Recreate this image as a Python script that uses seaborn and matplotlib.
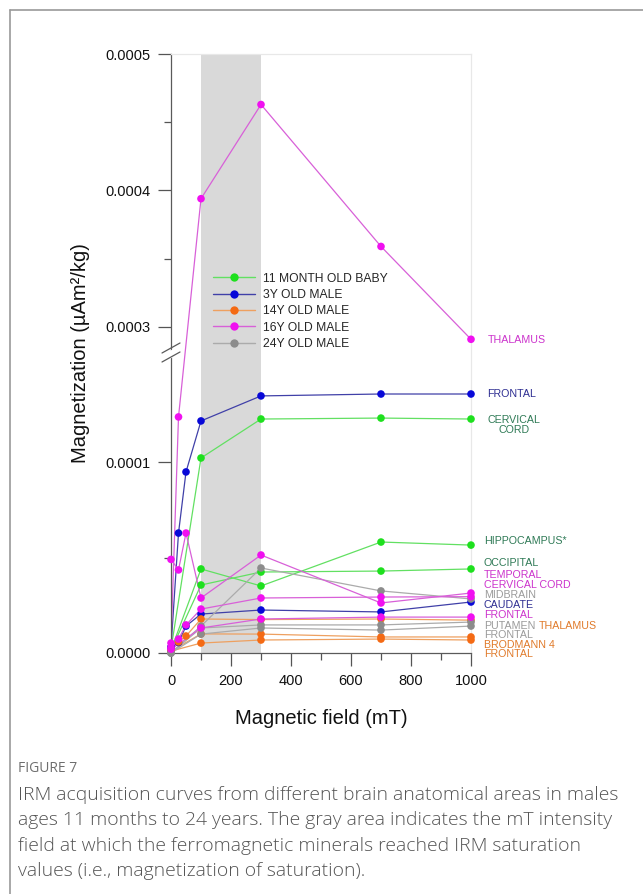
import numpy as np
import pandas as pd
import matplotlib
matplotlib.use("Agg")
import matplotlib.pyplot as plt
from matplotlib.lines import Line2D
from matplotlib.patches import Polygon
import seaborn as sns

# ---------------- data ----------------
ages = ["11 MONTH OLD BABY", "3Y OLD MALE", "14Y OLD MALE", "16Y OLD MALE", "24Y OLD MALE"]

baby_cervical_x = [0, 100, 300, 700, 1000]
baby_cervical_y = [2.0e-6, 1.021e-4, 1.225e-4, 1.230e-4, 1.225e-4]
baby_hippo_x = [0, 100, 300, 700, 1000]
baby_hippo_y = [1.5e-6, 4.40e-5, 3.51e-5, 5.81e-5, 5.65e-5]
baby_occip_x = [0, 100, 300, 700, 1000]
baby_occip_y = [1.5e-6, 3.56e-5, 4.24e-5, 4.29e-5, 4.40e-5]

m3_frontal_x = [0, 25, 50, 100, 300, 700, 1000]
m3_frontal_y = [3.0e-6, 6.28e-5, 9.48e-5, 1.215e-4, 1.346e-4, 1.356e-4, 1.356e-4]
m3_caudate_x = [0, 25, 50, 100, 300, 700, 1000]
m3_caudate_y = [3.0e-6, 5.5e-6, 1.41e-5, 2.04e-5, 2.25e-5, 2.15e-5, 2.67e-5]

m14_thal_x = [0, 25, 50, 100, 300, 700, 1000]
m14_thal_y = [1.0e-6, 5.8e-6, 8.9e-6, 1.78e-5, 1.75e-5, 1.78e-5, 1.72e-5]
m14_brod_x = [0, 100, 300, 700, 1000]
m14_brod_y = [1.0e-6, 1.00e-5, 9.9e-6, 8.4e-6, 8.4e-6]
m14_frontal_x = [0, 100, 300, 700, 1000]
m14_frontal_y = [1.0e-6, 5.2e-6, 6.8e-6, 7.3e-6, 6.8e-6]

m16_thal_x = [0, 25, 100, 300, 700, 1000]
m16_thal_y = [5.2e-6, 1.236e-4, 3.94e-4, 4.63e-4, 3.59e-4, 2.91e-4]
m16_temporal_x = [0, 25, 50, 100, 300, 700, 1000]
m16_temporal_y = [4.9e-5, 4.35e-5, 6.28e-5, 2.88e-5, 5.13e-5, 2.62e-5, 3.14e-5]
m16_cervical_x = [0, 25, 50, 100, 300, 700, 1000]
m16_cervical_y = [3.0e-6, 7.3e-6, 1.47e-5, 2.30e-5, 2.88e-5, 2.93e-5, 2.95e-5]
m16_frontal_x = [0, 100, 300, 700, 1000]
m16_frontal_y = [2.0e-6, 1.31e-5, 1.78e-5, 1.88e-5, 1.88e-5]

m24_midbrain_x = [0, 100, 300, 700, 1000]
m24_midbrain_y = [0.0, 1.41e-5, 4.45e-5, 3.25e-5, 2.83e-5]
m24_putamen_x = [0, 100, 300, 700, 1000]
m24_putamen_y = [0.0, 1.31e-5, 1.47e-5, 1.47e-5, 1.62e-5]
m24_frontal_x = [0, 100, 300, 700, 1000]
m24_frontal_y = [0.0, 9.9e-6, 1.31e-5, 1.20e-5, 1.41e-5]

series = [
    (ages[0], "CERVICAL CORD", baby_cervical_x, baby_cervical_y),
    (ages[0], "HIPPOCAMPUS*", baby_hippo_x, baby_hippo_y),
    (ages[0], "OCCIPITAL", baby_occip_x, baby_occip_y),
    (ages[1], "FRONTAL", m3_frontal_x, m3_frontal_y),
    (ages[1], "CAUDATE", m3_caudate_x, m3_caudate_y),
    (ages[2], "THALAMUS", m14_thal_x, m14_thal_y),
    (ages[2], "BRODMANN 4", m14_brod_x, m14_brod_y),
    (ages[2], "FRONTAL", m14_frontal_x, m14_frontal_y),
    (ages[4], "MIDBRAIN", m24_midbrain_x, m24_midbrain_y),
    (ages[4], "PUTAMEN", m24_putamen_x, m24_putamen_y),
    (ages[4], "FRONTAL", m24_frontal_x, m24_frontal_y),
    (ages[3], "THALAMUS", m16_thal_x, m16_thal_y),
    (ages[3], "TEMPORAL", m16_temporal_x, m16_temporal_y),
    (ages[3], "CERVICAL CORD", m16_cervical_x, m16_cervical_y),
    (ages[3], "FRONTAL", m16_frontal_x, m16_frontal_y),
]

# right-hand labels: text, y (data), x (data), color key
label_texts = ["THALAMUS", "FRONTAL", "CERVICAL\nCORD", "HIPPOCAMPUS*", "OCCIPITAL",
               "TEMPORAL", "CERVICAL CORD", "MIDBRAIN", "CAUDATE", "FRONTAL",
               "PUTAMEN", "THALAMUS", "FRONTAL", "BRODMANN 4", "FRONTAL"]
label_y = [2.905e-4, 1.356e-4, 1.194e-4, 5.86e-5, 4.71e-5,
           4.08e-5, 3.56e-5, 3.04e-5, 2.51e-5, 1.99e-5,
           1.41e-5, 1.41e-5, 9.4e-6, 4.2e-6, -5e-7]
label_x = [1055, 1055, 1055, 1043, 1043,
           1043, 1043, 1043, 1043, 1043,
           1043, 1225, 1043, 1043, 1043]
label_age = [3, 1, 0, 0, 0, 3, 3, 4, 1, 3, 4, 2, 4, 2, 2]

rows = []
for age, region, xs, ys in series:
    for xv, yv in zip(xs, ys):
        rows.append({"field": xv, "mag": yv, "age": age, "region": region})
df = pd.DataFrame(rows)

line_colors = {ages[0]: "#62e062", ages[1]: "#4040a8", ages[2]: "#eea060",
               ages[3]: "#d860d8", ages[4]: "#ababab"}
marker_colors = {ages[0]: "#1ee01e", ages[1]: "#0808d8", ages[2]: "#f46a14",
                 ages[3]: "#f010f0", ages[4]: "#8c8c8c"}
text_colors = ["#2f7a56", "#2e2e92", "#e07a2a", "#cc33cc", "#9a9a9a"]

# ---------------- broken y scale ----------------
Y1, Y2 = 0.000152, 0.000285
K1, K2 = 1.91e6, 1.365e6
H1 = Y1 * K1
H2 = 326.0 + (Y2 - 0.0003) * K2


def fwd(y):
    y = np.asarray(y, dtype=float)
    mid = H1 + (y - Y1) * (H2 - H1) / (Y2 - Y1)
    return np.where(y <= Y1, y * K1, np.where(y >= Y2, H2 + (y - Y2) * K2, mid))


def inv(h):
    h = np.asarray(h, dtype=float)
    mid = Y1 + (h - H1) * (Y2 - Y1) / (H2 - H1)
    return np.where(h <= H1, h / K1, np.where(h >= H2, Y2 + (h - H2) / K2, mid))


# ---------------- figure ----------------
sns.set_style("white")
plt.rcParams["font.family"] = ["Liberation Sans", "DejaVu Sans"]

W, H = 643, 894
fig = plt.figure(figsize=(W / 100, H / 100), dpi=100)
ax = fig.add_axes([171 / W, 1 - 653 / H, 300 / W, 599 / H])
ax.set_yscale("function", functions=(fwd, inv))
ax.set_xlim(0, 1000)
ax.set_ylim(0, 0.0005)

ax.axvspan(100, 300, color="#d9d9d9", zorder=0, lw=0)

sns.lineplot(data=df, x="field", y="mag", hue="age", units="region", estimator=None,
             palette=line_colors, linewidth=0.9, legend=False, sort=False, ax=ax, zorder=2)
sns.scatterplot(data=df, x="field", y="mag", hue="age", palette=marker_colors, s=30,
                linewidth=0, legend=False, ax=ax, zorder=3, clip_on=False)

# ticks
ax.set_xticks([0, 200, 400, 600, 800, 1000])
ax.set_xticks([100, 300, 500, 700, 900], minor=True)
ax.set_xticklabels(["0", "200", "400", "600", "800", "1000"])
yt = [0.0, 0.0001, 0.0003, 0.0004, 0.0005]
ax.set_yticks(yt)
ax.set_yticklabels([f"{v:.4f}" for v in yt])
ax.set_yticks([0.00005, 0.00035, 0.00045], minor=True)
ax.tick_params(axis="both", which="major", direction="out", length=9.5, width=0.9,
               color="#555555", labelsize=10.5, pad=5.5, labelcolor="#111111")
ax.tick_params(axis="both", which="minor", direction="out", length=5, width=0.9,
               color="#555555")
ax.tick_params(axis="x", which="both", bottom=True)
ax.tick_params(axis="y", which="both", left=True)

for s in ["left", "bottom"]:
    ax.spines[s].set_color("#5a5a5a")
    ax.spines[s].set_linewidth(0.9)
for s in ["top", "right"]:
    ax.spines[s].set_color("#e8e8e8")
    ax.spines[s].set_linewidth(0.9)

ax.set_xlabel("Magnetic field (mT)", fontsize=14.5, color="#111111")
ax.set_ylabel("Magnetization (\u00b5Am\u00b2/kg)", fontsize=14.5, color="#111111")
ax.xaxis.set_label_coords(0.5, -0.094)
ax.yaxis.set_label_coords(-0.27, 0.5)

# legend
handles = [Line2D([0], [0], color=line_colors[a], lw=1.0, marker="o", markersize=6,
                  markerfacecolor=marker_colors[a], markeredgewidth=0) for a in ages]
ax.legend(handles, ages, loc="upper left", bbox_to_anchor=(0.14, 0.635), frameon=False,
          fontsize=8.7, handlelength=3.5, handletextpad=0.6, labelspacing=0.36,
          borderpad=0, borderaxespad=0)

# right labels
for t, yv, xv, ai in zip(label_texts, label_y, label_x, label_age):
    ax.text(xv, yv, t, color=text_colors[ai], fontsize=7.7, ha="left", va="center",
            clip_on=False, multialignment="center", linespacing=0.95)

# axis break marks
tr = ax.transAxes
def px2ax(px, py):
    return ((px - 171) / 300, (653 - py) / 599)
white = Polygon([px2ax(168, 360), px2ax(175, 356), px2ax(175, 348), px2ax(168, 352)],
                closed=True, transform=tr, facecolor="white", edgecolor="none",
                clip_on=False, zorder=4)
ax.add_patch(white)
for dy in (0, 9):
    ax.plot([px2ax(162, 362 - dy)[0], px2ax(180, 352 - dy)[0]],
            [px2ax(162, 362 - dy)[1], px2ax(180, 352 - dy)[1]],
            transform=tr, color="#5a5a5a", lw=0.9, clip_on=False, zorder=5)

# page frame
fig.add_artist(Line2D([10 / W, 1], [1 - 10 / H, 1 - 10 / H], color="#9a9a9a", lw=1.2))
fig.add_artist(Line2D([10 / W, 10 / W], [0, 1 - 10 / H], color="#9a9a9a", lw=1.2))

# caption
cap_font = ["Open Sans", "DejaVu Sans"]
fig.text(18 / W, 1 - 768 / H, "FIGURE 7", fontsize=10, color="#6e6e6e",
         family=cap_font, va="center", ha="left")
cap_lines = ["IRM acquisition curves from different brain anatomical areas in males",
             "ages 11 months to 24 years. The gray area indicates the mT intensity",
             "field at which the ferromagnetic minerals reached IRM saturation",
             "values (i.e., magnetization of saturation)."]
fig.canvas.draw()
renderer = fig.canvas.get_renderer()
probe = fig.text(0, 0, cap_lines[0], fontsize=12, family=cap_font, fontweight="light")
w = probe.get_window_extent(renderer).width
probe.remove()
cap_fs = 12 * 598 / w
for i, line in enumerate(cap_lines):
    fig.text(18 / W, 1 - (795 + 25.3 * i) / H, line, fontsize=cap_fs, color="#555555",
             family=cap_font, fontweight="light", va="center", ha="left")

fig.savefig("out.png", dpi=100, facecolor="white")
